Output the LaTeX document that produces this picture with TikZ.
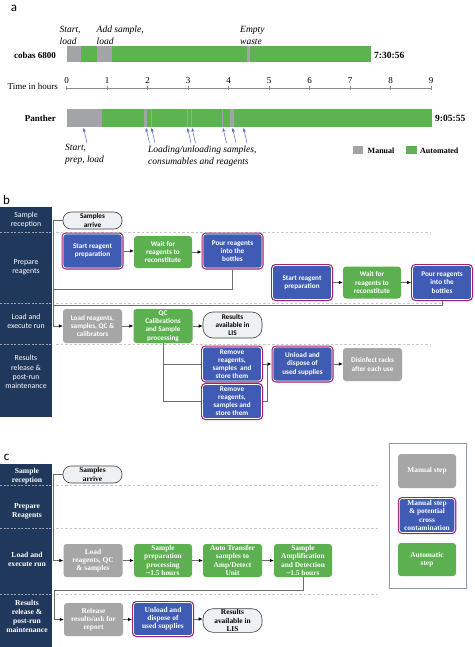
\documentclass[tikz,border=0pt]{standalone}
\usepackage{fontspec}
\setmainfont{Liberation Serif}
\newfontfamily\calfont{Carlito}
\usetikzlibrary{arrows.meta}
\definecolor{navy}{HTML}{1F385C}
\definecolor{mblue}{HTML}{3F5BB3}
\definecolor{mmag}{HTML}{A3206A}
\definecolor{mgreen}{HTML}{5CB050}
\definecolor{mgray}{HTML}{A6A6A6}
\definecolor{agray}{HTML}{A2A4A8}
\definecolor{agreen}{HTML}{5DB34F}
\definecolor{pillfill}{HTML}{EEF1F4}
\definecolor{cline}{HTML}{6E6E6E}
\definecolor{ablue}{HTML}{5468C0}
\definecolor{legline}{HTML}{8A96AC}
\tikzset{
 bfont/.style={font=\calfont\bfseries\fontsize{7.2}{8.3}\selectfont},
 cfont/.style={font=\bfseries\fontsize{7.4}{8.2}\selectfont},
 boxbase/.style={rectangle, rounded corners=3pt, inner sep=0.5pt, align=center, text=white, minimum width=58pt, minimum height=32pt},
 manb/.style={boxbase, bfont, fill=mgray},
 autob/.style={boxbase, bfont, fill=mgreen},
 crossb/.style={boxbase, bfont, fill=mblue, draw=white, line width=0.7pt, preaction={draw=mmag, line width=3pt}, outer sep=1.5pt, minimum width=59pt, minimum height=34pt},
 pillb/.style={rectangle, rounded corners=8pt, fill=pillfill, draw=black!75, line width=0.6pt, inner sep=1pt, align=center, text=black, bfont, minimum width=59pt, minimum height=17pt},
 manc/.style={boxbase, cfont, fill=mgray},
 autoc/.style={boxbase, cfont, fill=mgreen},
 crossc/.style={boxbase, cfont, fill=mblue, draw=white, line width=0.7pt, preaction={draw=mmag, line width=3pt}, outer sep=1.5pt, minimum width=59pt, minimum height=33pt},
 pillc/.style={rectangle, rounded corners=8pt, fill=pillfill, draw=black!75, line width=0.6pt, inner sep=1pt, align=center, text=black, cfont, minimum width=59pt, minimum height=17pt},
 arr/.style={draw=cline, line width=0.7pt, -{Latex[length=4pt,width=3.6pt,color=black]}},
 ln/.style={draw=cline, line width=0.7pt},
 lanetxtb/.style={text=white, align=center, font=\calfont\fontsize{7.8}{9.3}\selectfont},
 lanetxtc/.style={text=white, align=center, font=\bfseries\fontsize{7.6}{9.2}\selectfont},
 lanesep/.style={draw=white!55!navy, line width=0.4pt, dash pattern=on 2pt off 1.5pt},
 across/.style={draw=black!22, line width=0.5pt, dash pattern=on 2.5pt off 2pt},
 itl/.style={font=\itshape\fontsize{9.5}{11.5}\selectfont, align=left, inner sep=0pt},
 barrow/.style={draw=ablue, line width=0.5pt, -{Stealth[length=4pt,width=3pt]}},
 seclabel/.style={font=\calfont\fontsize{13}{13}\selectfont, inner sep=0pt},
}
\begin{document}
\begin{tikzpicture}[x=1pt,y=-1pt]
\useasboundingbox (0,0) rectangle (474,647);
\fill[white] (0,0) rectangle (474,647);

% ================= a =================
\node[seclabel] (la) at (14,8) {a};
% cobas bar
\fill[agray] (66.7,46.5) rectangle (81,62.5);
\fill[agreen] (81,46.5) rectangle (97,62.5);
\fill[agray] (97,46.5) rectangle (112,62.5);
\fill[agreen] (112,46.5) rectangle (247,62.5);
\fill[agray] (247,46.5) rectangle (250,62.5);
\fill[agreen] (250,46.5) rectangle (371,62.5);
\node[font=\bfseries\fontsize{9}{10}\selectfont, anchor=east, inner sep=0pt] (cobas) at (56,55) {cobas 6800};
\node[font=\bfseries\fontsize{9.5}{10}\selectfont, anchor=west, inner sep=0pt] (ctime) at (374,55) {7:30:56};
\node[itl, anchor=west] (l1) at (59.5,35.5) {Start,\\load};
\node[itl, anchor=west] (l2) at (96.5,35.5) {Add sample,\\load};
\node[itl, anchor=west] (l3) at (240,35.5) {Empty\\waste};
% axis
\node[font=\fontsize{9}{10}\selectfont, anchor=east, inner sep=0pt] (tih) at (58,86.5) {Time in hours};
\draw[black!45, line width=0.6pt] (66.7,88) -- (431,88);
\foreach \h in {0,...,9}{
  \draw[black!45, line width=0.5pt] ({66.7+40.48*\h},86) -- ({66.7+40.48*\h},90);
  \node[font=\fontsize{9}{10}\selectfont, inner sep=0pt] (ax\h) at ({66.7+40.48*\h},81) {\h};
}
% panther bar
\fill[agray] (66.7,109) rectangle (101.7,127);
\fill[agreen] (101.7,109) rectangle (432,127);
\foreach \a/\b in {144.3/147.3, 150.5/152, 186.5/188.3, 190.5/192, 221.7/223.3, 230/234}{
  \fill[agray] (\a,109) rectangle (\b,127);
}
\node[font=\bfseries\fontsize{9}{10}\selectfont, anchor=east, inner sep=0pt] (panther) at (56,118) {Panther};
\node[font=\bfseries\fontsize{9.5}{10}\selectfont, anchor=west, inner sep=0pt] (ptime) at (435,118) {9:05:55};
\foreach \t [count=\i] in {83.5,146,151.5,187.5,192,223,232.5,243.5}{
  \coordinate (tip\i) at (\t,128);
  \coordinate (tail\i) at (\t+3.5,143);
  \draw[barrow] (tail\i) -- (tip\i);
}
\node[itl, anchor=north west] (l4) at (65,144.5) {Start,\\prep, load};
\node[itl, anchor=north west] (l5) at (148,146) {Loading/unloading samples,\\consumables and reagents};
% legend a
\node[fill=agray, minimum width=10.5pt, minimum height=8pt, inner sep=0pt] (lgm) at (358,150) {};
\node[font=\bfseries\fontsize{8}{9}\selectfont, anchor=west, inner sep=0pt] (lgmt) at (367.5,150.5) {Manual};
\node[fill=agreen, minimum width=11pt, minimum height=8pt, inner sep=0pt] (lga) at (411.2,150) {};
\node[font=\bfseries\fontsize{8}{9}\selectfont, anchor=west, inner sep=0pt] (lgat) at (420,150.5) {Automated};

% ================= b =================
\node[seclabel] (lb) at (6.5,200) {b};
\fill[navy] (0,207) rectangle (52,417);
\draw[lanesep] (0,232) -- (52,232);
\draw[lanesep] (0,303) -- (52,303);
\draw[lanesep] (0,344) -- (52,344);
\draw[across] (56,232) -- (430,232);
\draw[across] (56,303) -- (444,303);
\draw[across] (56,344) -- (430,344);
\node[lanetxtb] (bl1) at (26,220) {Sample\\reception};
\node[lanetxtb] (bl2) at (26,267) {Prepare\\reagents};
\node[lanetxtb] (bl3) at (26,321) {Load and\\execute run};
\node[lanetxtb] (bl4) at (26,372) {Results\\release \&\\post-run\\maintenance};

\node[pillb] (sab) at (92.5,220.5) {Samples\\arrive};
\node[crossb] (srp1) at (92.5,251) {Start reagent\\preparation};
\node[autob] (wr1) at (163,252) {Wait for\\reagents to\\reconstitute};
\node[crossb] (pr1) at (232.5,251) {Pour reagents\\into the\\bottles};
\node[crossb] (srp2) at (302,282.5) {Start reagent\\preparation};
\node[autob] (wr2) at (372,282.5) {Wait for\\reagents to\\reconstitute};
\node[crossb] (pr2) at (442,282.5) {Pour reagents\\into the\\bottles};
\node[manb, minimum width=59pt, minimum height=34pt] (ldb) at (92.5,326) {Load reagents,\\samples, QC \&\\calibrators};
\node[autob, minimum width=59pt, minimum height=34pt] (qc) at (163,326) {QC\\Calibrations\\and Sample\\processing};
\node[pillb, minimum height=26pt, rounded corners=10pt] (resb) at (232.5,325) {Results\\available in\\LIS};
\node[crossb, font=\calfont\bfseries\fontsize{7.2}{8}\selectfont] (rm1) at (232,364) {Remove\\reagents,\\samples\ \ and\\store them};
\node[crossb, font=\calfont\bfseries\fontsize{7.2}{8}\selectfont] (rm2) at (232,401.5) {Remove\\reagents,\\samples and\\store them};
\node[crossb] (ulb) at (302.5,364) {Unload and\\dispose of\\used supplies};
\node[manb, minimum width=59pt, minimum height=33pt] (dis) at (372.5,364.5) {Disinfect racks\\after each use};

\coordinate (j1) at (54,289);
\coordinate (j2) at (54,305);
\coordinate (mx) at (267,364);
\draw[arr] (sab.west) -- ++(-9,0) |- (ldb.west);
\draw[ln] (pr1.south) |- (j1);
\draw[ln] (pr2.south) |- (j2);
\draw[arr] (srp1.east) -- (wr1.west |- srp1.east);
\draw[arr] (wr1.east) -- (pr1.west |- wr1.east);
\draw[arr] (srp2.east) -- (wr2.west);
\draw[arr] (wr2.east) -- (pr2.west);
\draw[arr] (ldb.east) -- (qc.west);
\draw[arr] (qc.east) -- (resb.west |- qc.east);
\draw[ln] (qc.south) |- (rm1.west);
\draw[ln] (qc.south) |- (rm2.west);
\draw[ln] (rm1.east) -- (mx);
\draw[ln] (rm2.east) -| (mx);
\draw[arr] (mx) -- (ulb.west);
\draw[arr] (ulb.east) -- (dis.west |- ulb.east);

% ================= c =================
\node[seclabel] (lc) at (6.5,457) {c};
\fill[navy] (0,464) rectangle (52,647);
\draw[lanesep] (0,485) -- (52,485);
\draw[lanesep] (0,528) -- (52,528);
\draw[lanesep] (0,594) -- (52,594);
\draw[across] (56,485.5) -- (378,485.5);
\draw[across] (56,528) -- (378,528);
\draw[across] (56,594) -- (378,594);
\node[lanetxtc] (cl1) at (27,476) {Sample\\reception};
\node[lanetxtc] (cl2) at (27,511.5) {Prepare\\Reagents};
\node[lanetxtc] (cl3) at (27,559.5) {Load and\\execute run};
\node[lanetxtc] (cl4) at (27,616.5) {Results\\release \&\\post-run\\maintenance};

\node[pillc] (sac) at (92.5,474.5) {Samples\\arrive};
\node[manc, minimum width=59pt, minimum height=33pt] (ldc) at (93,560.5) {Load\\reagents, QC\\\& samples};
\node[autoc, minimum height=33pt] (spc) at (163,560.5) {Sample\\preparation\\processing\\\textasciitilde1.5 hours};
\node[autoc, minimum width=59pt, minimum height=33pt] (atc) at (232.5,560.5) {Auto Transfer\\samples to\\Amp/Detect\\Unit};
\node[autoc, minimum height=33pt] (ampc) at (303,560.5) {Sample\\Amplification\\and Detection\\\textasciitilde1.5 hours};
\node[manc, minimum width=59pt, minimum height=33pt] (relc) at (93.5,619.5) {Release\\results/ask for\\report};
\node[crossc] (ulc) at (163,619) {Unload and\\dispose of\\used supplies};
\node[pillc, minimum height=23pt, rounded corners=10pt] (resc) at (232.5,620.5) {Results\\available in\\LIS};

\coordinate (jc) at (54,590);
\draw[arr] (sac.west) -- ++(-9,0) |- (ldc.west);
\draw[arr] (ldc.east) -- (spc.west);
\draw[arr] (spc.east) -- (atc.west);
\draw[arr] (atc.east) -- (ampc.west);
\draw[arr] (ampc.south) |- (jc) |- (relc.west);
\draw[arr] (relc.east) -- (ulc.west |- relc.east);
\draw[arr] (ulc.east) -- (resc.west |- ulc.east);

% legend c
\node[draw=legline, line width=0.7pt, minimum width=77pt, minimum height=145pt, inner sep=0pt] (legc) at (427.5,515.5) {};
\node[manc, minimum width=58pt, minimum height=34pt] (lg1) at (427,471) {Manual step};
\node[crossc, minimum width=55.5pt, minimum height=34pt] (lg2) at (427,515.5) {Manual step\\\& potential\\cross\\contamination};
\node[autoc, minimum width=58pt, minimum height=33pt] (lg3) at (427,559.5) {Automatic\\step};
\end{tikzpicture}
\end{document}
